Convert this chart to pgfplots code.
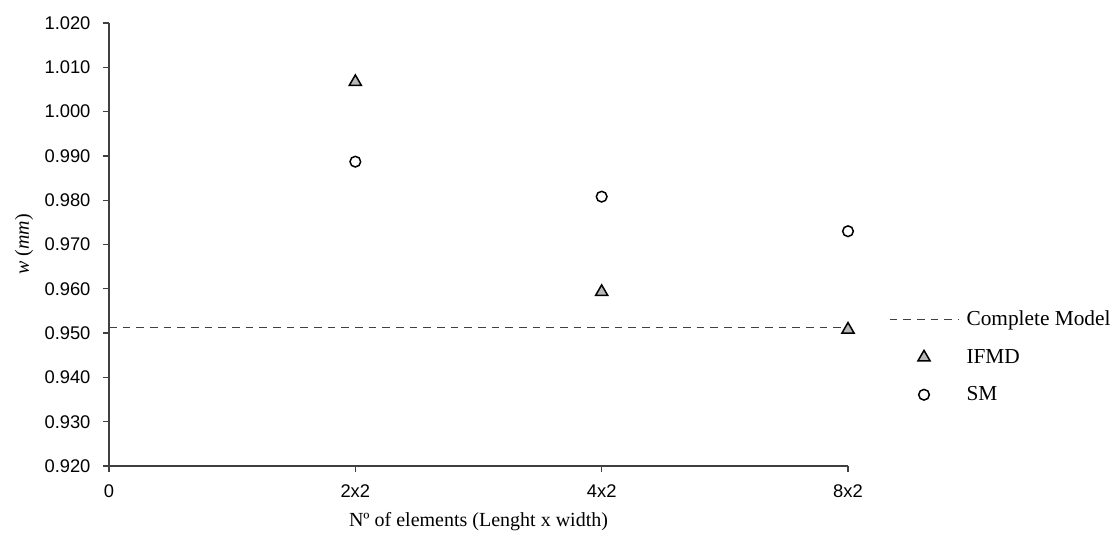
\documentclass[border=0pt]{standalone}
\usepackage{fontspec}
\setmainfont{Liberation Serif}
\newfontfamily\ticksans{Liberation Sans}
\usepackage{pgfplots}
\pgfplotsset{compat=1.18}

\definecolor{axisgray}{gray}{0.25}
\definecolor{markfill}{gray}{0.72}

\begin{document}
\begin{tikzpicture}[x=1pt,y=1pt]
\begin{axis}[
  scale only axis,
  width=443.4pt, height=265.8pt,
  xmin=0, xmax=3, ymin=0.92, ymax=1.02,
  axis x line*=bottom, axis y line*=left,
  axis line style={-, draw=axisgray, line width=0.9pt},
  xtick={0,1,2,3}, xticklabels={0,2x2,4x2,8x2},
  ytick={0.92,0.93,0.94,0.95,0.96,0.97,0.98,0.99,1.00,1.01,1.02},
  tick align=outside, major tick length=3.6pt,
  tick style={draw=axisgray, line width=0.8pt},
  yticklabel style={/pgf/number format/fixed, /pgf/number format/fixed zerofill, /pgf/number format/precision=3},
  /pgf/number format/assume math mode=true,
  xticklabel style={yshift=-4pt},
  yticklabel style={xshift=-4pt},
  ticklabel style={font=\ticksans\fontsize{11}{13}\selectfont},
  xlabel={Nº of elements (Lenght x width)},
  ylabel={{\itshape w} ({\itshape mm})},
  label style={font=\fontsize{12}{14}\selectfont},
  xlabel style={yshift=-2pt},
  legend style={draw=none, fill=none, inner sep=0pt, outer sep=0pt,
    at={(1.0555,0.246)}, anchor=west, row sep=8.5pt, column sep=2.5pt,
    font=\fontsize{12.8}{15}\selectfont,
    nodes={inner sep=2pt}},
  legend cell align=left,
  legend image code/.code={\draw[mark repeat=2, mark phase=2, #1] plot coordinates {(0pt,0pt) (20.7pt,0pt) (41.4pt,0pt)};},
  clip=false,
]
\coordinate (o) at (rel axis cs:0,0);
\coordinate (t) at (rel axis cs:1,1);

% reference solution of the complete model
\addplot[draw=black!75, line width=0.6pt, dash pattern=on 4.6pt off 3.6pt] coordinates {(0,0.9512) (3,0.9512)};
\addlegendentry{Complete Model}

% IFMD results
\addplot[only marks, mark=triangle*, mark size=4.2pt,
  mark options={fill=markfill, draw=black, line width=0.9pt}]
  coordinates {(1,1.0067) (2,0.9593) (3,0.9508)};
\addlegendentry{IFMD}

% SM results
\addplot[only marks, mark=o, mark size=3.2pt,
  mark options={draw=black, line width=0.9pt}]
  coordinates {(1,0.9887) (2,0.9808) (3,0.9730)};
\addlegendentry{SM}
\end{axis}
\path (o) ++(-65.4,-48) coordinate (bl);
\path (t) ++(162.6,13.8) coordinate (tr);
\pgfresetboundingbox
\path[use as bounding box] (bl) rectangle (tr);
\end{tikzpicture}
\end{document}
